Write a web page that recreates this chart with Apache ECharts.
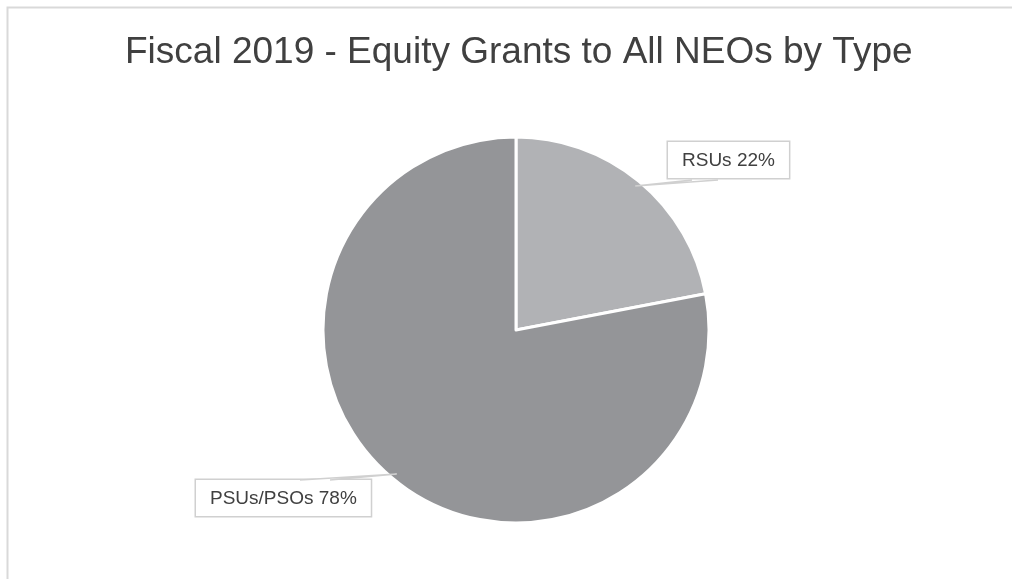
<!DOCTYPE html>
<html><head><meta charset="utf-8">
<script src="https://cdn.jsdelivr.net/npm/echarts@6/dist/echarts.min.js"></script>
<style>html,body{margin:0;padding:0;background:#fff}#c{width:1012px;height:579px}</style>
</head><body><div id="c"></div>
<script>
const categories = ['RSUs', 'PSUs/PSOs'];
const values = [22, 78];
const colors = ['#b1b2b5', '#949598'];
const titleText = 'Fiscal 2019 - Equity Grants to All NEOs by Type';

const chart = echarts.init(document.getElementById('c'), null, {renderer: 'canvas'});
const CX = 516, CY = 330, R = 193;
const labelPos = [
  {x: 668, y: 142, ex: [692, 718], ey: 180},
  {x: 196, y: 480, ex: [300, 330], ey: 480}
];
// callout pointers derived from slice mid-angles
const total = values.reduce((a, b) => a + b, 0);
let acc = 0;
const pointers = values.map((v, i) => {
  const mid = (acc + v / 2) / total * 2 * Math.PI; acc += v;
  const tip = [CX + (R - 6) * Math.sin(mid), CY - (R - 6) * Math.cos(mid)];
  const p = labelPos[i];
  return {
    type: 'polyline', silent: true, z: 100,
    shape: {points: [[p.ex[0], p.ey], tip, [p.ex[1], p.ey]]},
    style: {fill: '#fff', stroke: '#d0d0d0', lineWidth: 1.5}
  };
});
chart.setOption({
  animation: false,
  backgroundColor: '#fff',
  graphic: [{
    type: 'rect', shape: {x: 7.5, y: 7.5, width: 1100, height: 700},
    style: {fill: 'none', stroke: '#d9d9d9', lineWidth: 2}, silent: true
  }].concat(pointers),
  title: {
    text: titleText, left: 120, top: 29,
    textStyle: {fontFamily: 'Liberation Sans, Arial, sans-serif', fontSize: 37, fontWeight: 'normal', color: '#404040'}
  },
  series: [{
    type: 'pie',
    center: [CX, CY],
    radius: R,
    startAngle: 90,
    clockwise: true,
    z: 2,
    data: categories.map((c, i) => ({name: c, value: values[i], itemStyle: {color: colors[i]}})),
    itemStyle: {borderColor: '#fff', borderWidth: 3},
    label: {
      show: true,
      formatter: p => p.name + ' ' + p.value + '%',
      fontFamily: 'Liberation Sans, Arial, sans-serif',
      fontSize: 19, color: '#404040',
      backgroundColor: '#fff',
      borderColor: '#d0d0d0', borderWidth: 1.5,
      padding: [9, 14, 8, 14]
    },
    labelLine: {show: false},
    labelLayout: function (params) {
      const p = labelPos[params.dataIndex];
      return {x: p.x, y: p.y, align: 'left', verticalAlign: 'top'};
    }
  }]
});
</script>
</body></html>
